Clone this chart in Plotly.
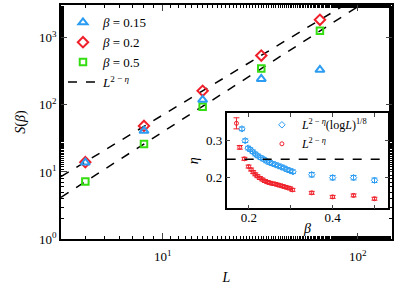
import numpy as np
import plotly.graph_objects as go

# ---------------- data: main panel ----------------
L_vals = [4, 8, 16, 32, 64]
S_b015 = [13.8, 41, 119, 244, 333]
S_b02 = [14, 48.6, 162, 544, 1857]
S_b05 = [7.2, 26.2, 94, 348, 1271]
L_fit_range = [3, 100]

# ---------------- data: inset ----------------
beta_log = [0.183, 0.191, 0.198, 0.203, 0.209, 0.215, 0.221, 0.228, 0.235, 0.242, 0.249, 0.256,
            0.263, 0.270, 0.277, 0.284, 0.291, 0.298, 0.305, 0.35, 0.40, 0.45, 0.50]
eta_log = [0.332, 0.300, 0.280, 0.276, 0.270, 0.264, 0.259, 0.254, 0.250, 0.245, 0.241, 0.238,
           0.235, 0.232, 0.229, 0.226, 0.222, 0.219, 0.216, 0.208, 0.200, 0.200, 0.193]
err_log = [0.005] * 19 + [0.006, 0.006, 0.006, 0.006]

beta_pl = [0.170, 0.178, 0.189, 0.199, 0.205, 0.210, 0.215, 0.220, 0.226, 0.232, 0.238, 0.244, 0.250,
           0.256, 0.262, 0.268, 0.274, 0.280, 0.286, 0.292, 0.298, 0.304, 0.35, 0.40, 0.45, 0.50]
eta_pl = [0.347, 0.282, 0.251, 0.230, 0.222, 0.215, 0.209, 0.204, 0.199, 0.195, 0.191, 0.188, 0.186,
          0.184, 0.183, 0.181, 0.179, 0.177, 0.175, 0.173, 0.171, 0.167, 0.159, 0.148, 0.152, 0.143]
err_pl = [0.015, 0.005] + [0.004] * 24
eta_ref = 0.25

main_xticks = [10, 100]
main_xtext = ["10<sup>1</sup>", "10<sup>2</sup>"]
main_yticks = [1, 10, 100, 1000]
main_ytext = ["10<sup>0</sup>", "10<sup>1</sup>", "10<sup>2</sup>", "10<sup>3</sup>"]
inset_xticks = [0.2, 0.3, 0.4, 0.5]
inset_xtext = ["0.2", "", "0.4", ""]
inset_yticks = [0.2, 0.3]
inset_ytext = ["0.2", "0.3"]

BLUE = "#2b9cf2"
RED = "#f0202a"
GREEN = "#33dd11"
FONT = "Liberation Serif, Times New Roman, serif"


def fit_line(L, S):
    p = np.polyfit(np.log10(L), np.log10(S), 1)
    xs = np.array(L_fit_range, dtype=float)
    return xs, 10 ** np.polyval(p, np.log10(xs))


fig = go.Figure()

fx1, fy1 = fit_line(L_vals, S_b02)
fx2, fy2 = fit_line(L_vals, S_b05)
fig.add_trace(go.Scatter(x=fx1, y=fy1, mode="lines", line=dict(color="black", dash="dash", width=1.5),
                         name="<i>L</i><sup>2 − <i>η</i></sup>", legendrank=4))
fig.add_trace(go.Scatter(x=fx2, y=fy2, mode="lines", line=dict(color="black", dash="dash", width=1.5),
                         showlegend=False))

fig.add_trace(go.Scatter(x=L_vals, y=S_b02, mode="markers", name="<i>β</i> = 0.2", legendrank=2,
                         marker=dict(symbol="diamond-open", size=8, color=RED, line=dict(width=2))))
fig.add_trace(go.Scatter(x=L_vals, y=S_b05, mode="markers", name="<i>β</i> = 0.5", legendrank=3,
                         marker=dict(symbol="square-open", size=6.5, color=GREEN, line=dict(width=2))))
fig.add_trace(go.Scatter(x=L_vals, y=S_b015, mode="markers", name="<i>β</i> = 0.15", legendrank=1,
                         marker=dict(symbol="triangle-up-open", size=8, color=BLUE, line=dict(width=2))))

# inset
fig.add_trace(go.Scatter(x=beta_log, y=eta_log, mode="markers", xaxis="x2", yaxis="y2",
                         name="<i>L</i><sup>2 − <i>η</i></sup>(log<i>L</i>)<sup>1/8</sup>",
                         legend="legend2", legendrank=1,
                         marker=dict(symbol="diamond-open", size=5, color=BLUE, line=dict(width=1)),
                         error_y=dict(type="data", array=err_log, color=BLUE, thickness=1, width=3)))
fig.add_trace(go.Scatter(x=beta_pl, y=eta_pl, mode="markers", xaxis="x2", yaxis="y2",
                         name="<i>L</i><sup>2 − <i>η</i></sup>", legend="legend2", legendrank=2,
                         marker=dict(symbol="circle-open", size=4, color=RED, line=dict(width=1)),
                         error_y=dict(type="data", array=err_pl, color=RED, thickness=1, width=3)))

fig.add_shape(type="line", xref="x2 domain", yref="y2", x0=0, x1=1, y0=eta_ref, y1=eta_ref,
              line=dict(color="black", dash="dash", width=1.5))

axis_common = dict(showline=True, linecolor="black", linewidth=1.5, mirror="allticks",
                   ticks="inside", showgrid=False, zeroline=False, automargin=False,
                   tickfont=dict(family=FONT, size=13, color="black"))

fig.update_layout(
    width=409, height=285,
    margin=dict(l=61, r=17, t=5, b=46),
    paper_bgcolor="white", plot_bgcolor="white",
    font=dict(family=FONT, size=13, color="black"),
    xaxis=dict(type="log", range=[np.log10(3), np.log10(150)], tickvals=main_xticks, ticktext=main_xtext,
               ticklen=6, ticklabelstandoff=5,
               minor=dict(ticks="inside", ticklen=3.5, showgrid=False, tickcolor="black"),
               title=dict(text="<i>L</i>", font=dict(family=FONT, size=14), standoff=18),
               **axis_common),
    yaxis=dict(type="log", range=[0, 3.49], tickvals=main_yticks, ticktext=main_ytext,
               ticklen=6, minor=dict(ticks="inside", ticklen=3.5, showgrid=False, tickcolor="black"),
               title=dict(text="<i>S</i>(<i>β</i>)", font=dict(family=FONT, size=14), standoff=10),
               **axis_common),
    xaxis2=dict(domain=[0.5006, 0.9888], anchor="y2", range=[0.1467, 0.533],
                tickvals=inset_xticks, ticktext=inset_xtext, ticklen=4, ticklabelstandoff=-4,
                title=dict(text="<i>β</i>", font=dict(family=FONT, size=14), standoff=0),
                **axis_common),
    yaxis2=dict(domain=[0.131, 0.537], anchor="x2", range=[0.117, 0.374],
                tickvals=inset_yticks, ticktext=inset_ytext, ticklen=4,
                title=dict(text="<i>η</i>", font=dict(family=FONT, size=14), standoff=4),
                **axis_common),
    legend=dict(x=0.006, y=0.99, xanchor="left", yanchor="top", bgcolor="rgba(0,0,0,0)",
                font=dict(family=FONT, size=13), itemwidth=30, tracegroupgap=0),
    legend2=dict(x=0.607, y=0.55, xanchor="left", yanchor="top", bgcolor="rgba(0,0,0,0)",
                 font=dict(family=FONT, size=12), itemwidth=30, tracegroupgap=0),
)

fig.write_html("out.html", config={"displayModeBar": False},
               post_script="document.body.style.margin='0px';")
